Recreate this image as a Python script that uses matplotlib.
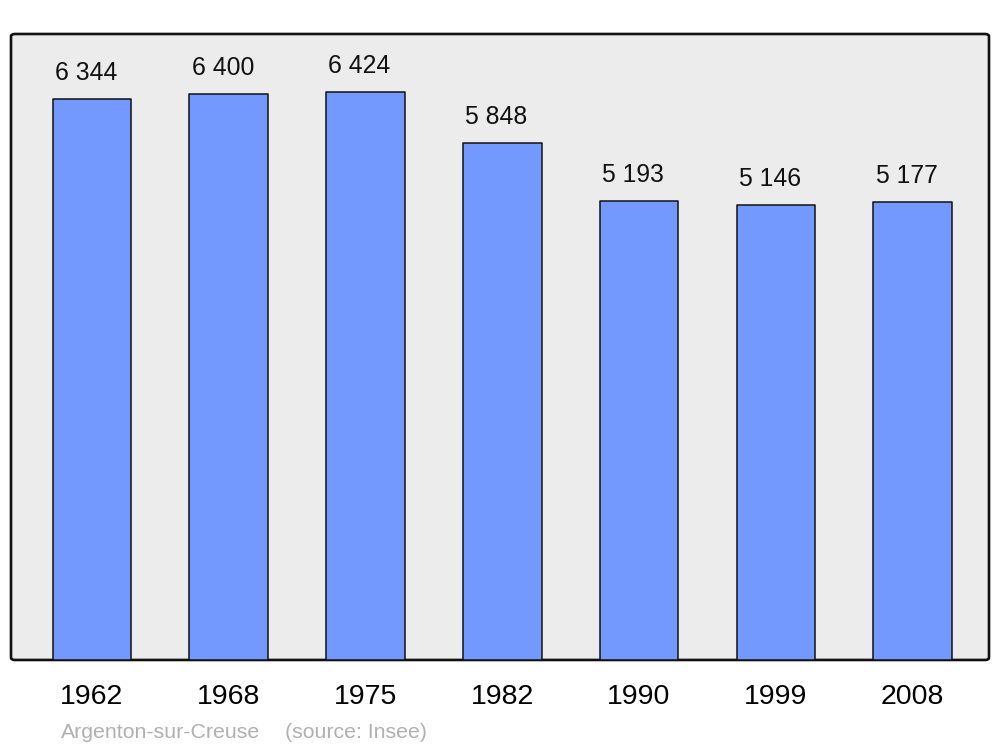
import matplotlib.pyplot as plt
from matplotlib.patches import FancyBboxPatch

plt.rcParams['font.family'] = ['Liberation Sans', 'DejaVu Sans']

# Données
annees = ['1962', '1968', '1975', '1982', '1990', '1999', '2008']
population = [6344, 6400, 6424, 5848, 5193, 5146, 5177]
etiquettes = ['6 344', '6 400', '6 424', '5 848', '5 193', '5 146', '5 177']

fig = plt.figure(figsize=(10, 7.47), dpi=100)
ax = fig.add_axes([0.011, 0.1165, 0.978, 0.838])

# Fond gris avec coins arrondis
fond = FancyBboxPatch((0, 0), 1, 1, boxstyle='round,pad=0,rounding_size=0.004',
                      transform=ax.transAxes, facecolor='#ececec',
                      edgecolor='#111111', linewidth=1.9, zorder=0, clip_on=False)
ax.add_patch(fond)
ax.patch.set_visible(False)
for s in ax.spines.values():
    s.set_visible(False)

x = range(len(annees))
barres = ax.bar(x, population, width=0.574, color='#7399ff', edgecolor='#111111',
                linewidth=1.1, zorder=2)
for b in barres:
    b.set_joinstyle('round')

# Valeurs au-dessus des barres (un peu décalées à gauche comme l'original)
for i, v in enumerate(population):
    ax.annotate(etiquettes[i], xy=(i, v), xytext=(-4.3, 13.5), textcoords='offset points',
                ha='center', va='baseline', fontsize=17.8, color='#111111')

ax.set_xlim(-0.592, 6.559)
ax.set_ylim(0, 7079)
ax.set_xticks(list(x))
ax.set_xticklabels(annees, fontsize=20.5)
ax.tick_params(axis='x', length=0, pad=17.5)
ax.set_yticks([])

fig.text(0.061, 0.012, 'Argenton-sur-Creuse', color='#b0b0b0', fontsize=15.3,
         va='baseline', ha='left')
fig.text(0.285, 0.012, '(source: Insee)', color='#b0b0b0', fontsize=15.3,
         va='baseline', ha='left')

fig.savefig('out.png', dpi=100)
